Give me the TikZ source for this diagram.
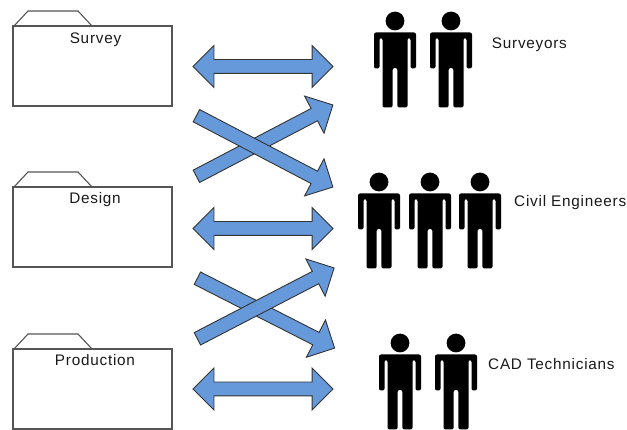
\documentclass[tikz,border=0pt]{standalone}
\usepackage{fontspec}
\setmainfont{Liberation Sans}
\newfontfamily\lblfont[LetterSpace=5]{Liberation Sans}
\usetikzlibrary{shapes.arrows}
\definecolor{arrowblue}{RGB}{102,153,217}
\definecolor{folderline}{RGB}{85,85,85}
\tikzset{
  x=1pt,y=-1pt,
  folderbody/.style={draw=folderline,line width=1.1pt,fill=white},
  lbl/.style={font=\lblfont\fontsize{15.3}{17}\selectfont,text=black!90,inner sep=0pt},
  bothways/.style={double arrow,draw=black!80,fill=arrowblue,line width=0.9pt,inner xsep=0pt,inner ysep=6.5pt,
    minimum height=140pt,minimum width=41pt,double arrow head extend=14pt},
  oneway/.style={single arrow,anchor=tail,draw=black!80,fill=arrowblue,line width=0.9pt,inner xsep=0pt,inner ysep=6.5pt,
    minimum height=154pt,minimum width=41pt,single arrow head extend=14pt},
  folder/.pic={
    \draw[folderbody,line join=miter] (1,0) -- (15,-15) -- (65,-15) -- (79,0);
    \draw[folderbody] (0,0) rectangle (159,80);
  },
  person/.pic={
    \fill[black] (0,0) circle (9.4);
    \fill[black,rounded corners=2pt]
      (-21,11.5) -- (21,11.5) -- (21,47.5) -- (15.5,47.5) -- (15.5,17) -- (12.5,17)
      -- (12.5,86.5) -- (2.4,86.5) -- (2.4,47) -- (-2.4,47) -- (-2.4,86.5) -- (-12.5,86.5)
      -- (-12.5,17) -- (-15.5,17) -- (-15.5,47.5) -- (-21,47.5) -- cycle;
  }
}
\begin{document}
\begin{tikzpicture}
\useasboundingbox (0,0) rectangle (627,430);
\fill[white] (0,0) rectangle (627,430);
% folders
\pic at (13,26) {folder};
\pic at (13,187) {folder};
\pic at (13,349) {folder};
\node[lbl,anchor=base] (survey) at (95.5,43.3) {Survey};
\node[lbl,anchor=base] (design) at (95,203.5) {Design};
\node[lbl,anchor=base] (production) at (95,365.7) {Production};
% arrows
\node[bothways] (a1) at (263,66.5) {};
\node[oneway,rotate=27.6] (a2) at (196,176.5) {};
\node[oneway,rotate=-27.6] (a3) at (196,115.5) {};
\node[bothways] (a4) at (263,228.5) {};
\node[oneway,rotate=-27] (a5) at (197,278) {};
\node[oneway,rotate=27.4] (a6) at (197,339) {};
\node[bothways] (a7) at (263,389) {};
% people
\pic at (395,21) {person};
\pic at (451,21) {person};
\pic at (379,182) {person};
\pic at (430,182) {person};
\pic at (480,182) {person};
\pic at (400,343) {person};
\pic at (456,343) {person};
\node[lbl,anchor=base west] (surveyors) at (491.7,48.3) {Surveyors};
\node[lbl,anchor=base west] (civil) at (514,206.7) {Civil Engineers};
\node[lbl,anchor=base west] (cad) at (488,370) {CAD Technicians};
\end{tikzpicture}
\end{document}
